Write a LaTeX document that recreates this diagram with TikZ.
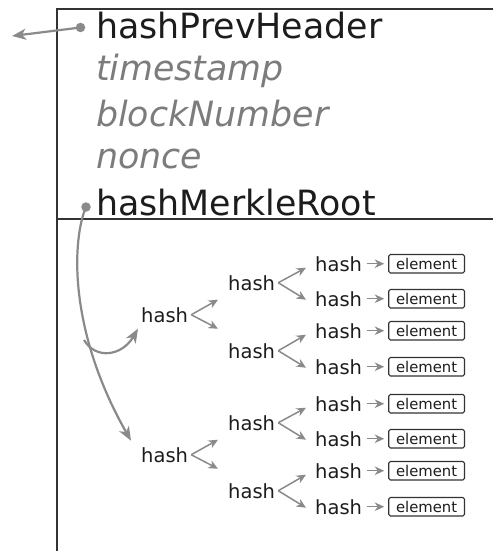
\documentclass[tikz,border=0pt]{standalone}
\usepackage{fontspec}
\setmainfont{DejaVu Sans}
\usetikzlibrary{arrows.meta}
\definecolor{ink}{HTML}{1C1C1C}
\definecolor{frame}{HTML}{333333}
\definecolor{soft}{HTML}{7C7C7C}
\definecolor{wire}{HTML}{8A8A8A}
\tikzset{
  field/.style={anchor=base west, inner sep=0pt, font=\fontsize{34.8}{40}\selectfont, text=ink},
  dimfield/.style={field, text=soft, font=\fontsize{34.8}{40}\selectfont\itshape},
  hnode/.style={anchor=base west, inner sep=0pt, font=\fontsize{19.5}{22}\selectfont, text=ink},
  elem/.style={draw=frame, line width=1.2pt, rounded corners=1.5pt, inner sep=0pt,
    minimum width=75.6pt, minimum height=18.4pt, anchor=west,
    font=\fontsize{14.8}{16}\selectfont, text=ink},
  tarr/.style={draw=wire, line width=1.5pt, -{Stealth[length=9.5pt,width=8.5pt,inset=3pt]}},
  bigarr/.style={draw=wire, line width=2.2pt, -{Stealth[length=14pt,width=11pt,inset=4pt]}},
  pin/.style={circle, fill=wire, inner sep=0pt, minimum size=9.5pt},
}
\begin{document}
\begin{tikzpicture}[x=1pt, y=-1pt]
\useasboundingbox (0,0) rectangle (493,551);

% header frame
\draw[frame, line width=1.8pt] (493,9) -- (57,9) -- (57,551);
\draw[frame, line width=1.8pt] (57,219) -- (493,219);

% header fields
\node[field]    (prev)   at (96,39)  {hashPrevHeader};
\node[dimfield] (ts)     at (96,81)  {timestamp};
\node[dimfield] (bn)     at (96,126) {blockNumber};
\node[dimfield] (nonce)  at (96,168) {nonce};
\node[field]    (merkle) at (96,215) {hashMerkleRoot};

\node[pin] (pdot) at (80.5,27.5) {};
\node[pin] (mdot) at (86,207) {};
\coordinate (back) at (12,36);
\draw[bigarr] (pdot.center) -- (back);

% merkle tree, upper half
\node[hnode] (r1)  at (141,322) {hash};
\node[hnode] (a1)  at (228,290) {hash};
\node[hnode] (a2)  at (228,358) {hash};
\node[hnode] (l1)  at (315,271) {hash};
\node[hnode] (l2)  at (315,306) {hash};
\node[hnode] (l3)  at (315,338) {hash};
\node[hnode] (l4)  at (315,374) {hash};

% merkle tree, lower half
\node[hnode] (r2)  at (141,462) {hash};
\node[hnode] (a3)  at (228,430) {hash};
\node[hnode] (a4)  at (228,498) {hash};
\node[hnode] (l5)  at (315,411) {hash};
\node[hnode] (l6)  at (315,446) {hash};
\node[hnode] (l7)  at (315,478) {hash};
\node[hnode] (l8)  at (315,514) {hash};

% leaf elements
\foreach \i in {1,...,8} {
  \node[elem] (e\i) at ([xshift=26pt]l\i.east) {element};
  \draw[tarr] ([xshift=5pt]l\i.east) -- ([xshift=-4pt]e\i.west);
}

% forks
\foreach \p/\u/\d in {r1/a1/a2, r2/a3/a4} {
  \draw[tarr] ([xshift=3pt]\p.east) -- ([xshift=-10pt,yshift=-17pt]\u.west);
  \draw[tarr] ([xshift=3pt]\p.east) -- ([xshift=-10pt,yshift=22pt]\d.west);
}
\foreach \p/\u/\d in {a1/l1/l2, a2/l3/l4, a3/l5/l6, a4/l7/l8} {
  \draw[tarr] ([xshift=3pt]\p.east) -- ([xshift=-9pt,yshift=-4pt]\u.west);
  \draw[tarr] ([xshift=3pt]\p.east) -- ([xshift=-9pt,yshift=-1pt]\d.west);
}

% root pointers
\draw[bigarr] (mdot.center) .. controls (72,240) and (68,330) .. ([xshift=-10pt,yshift=14pt]r2.west);
\coordinate (fork) at (84,340);
\draw[bigarr] (fork) .. controls (96,360) and (122,356) .. ([xshift=-3pt,yshift=-14pt]r1.west);
\end{tikzpicture}
\end{document}
